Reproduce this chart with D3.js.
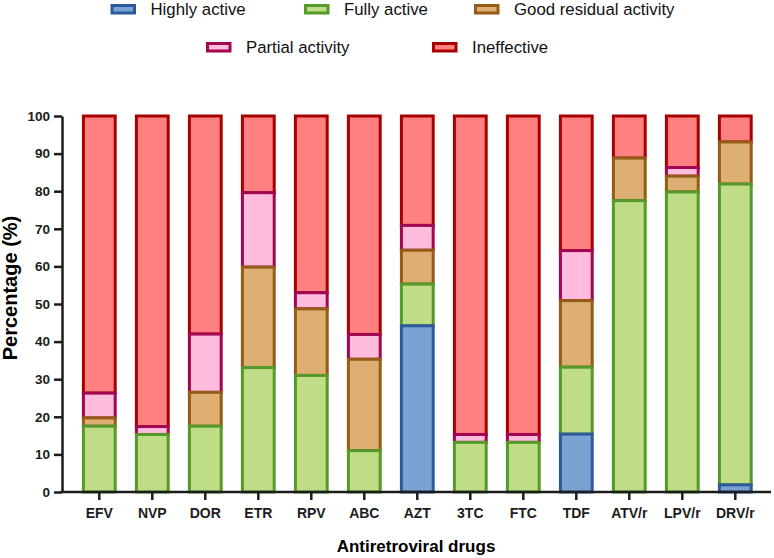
<!DOCTYPE html>
<html>
<head>
<meta charset="utf-8">
<script src="https://cdn.jsdelivr.net/npm/d3@7"></script>
<style>
  body { margin: 0; background: #fff; }
  svg { display: block; font-family: "Liberation Sans", Arial, sans-serif; }
</style>
</head>
<body>
<svg id="chart" width="774" height="558"></svg>
<script>
// drugs on the x axis
var drugs = ["EFV", "NVP", "DOR", "ETR", "RPV", "ABC", "AZT", "3TC", "FTC", "TDF", "ATV/r", "LPV/r", "DRV/r"];

// percentage per activity level, one value per drug
var highly_active   = [0,    0,    0,    0,    0,    0,    44.2, 0,    0,    15.4, 0,    0,    1.9];
var fully_active    = [17.5, 15.3, 17.5, 33.1, 31.0, 11.0, 11.1, 13.2, 13.2, 17.8, 77.5, 79.8, 80.0];
var good_residual   = [2.2,  0,    9.0,  26.7, 17.7, 24.3, 9.0,  0,    0,    17.7, 11.3, 4.2,  11.2];
var partial         = [6.6,  2.1,  15.5, 19.8, 4.3,  6.6,  6.6,  2.1,  2.1,  13.3, 0,    2.3,  0];
var ineffective     = [73.7, 82.6, 58.0, 20.4, 47.0, 58.1, 29.1, 84.7, 84.7, 35.8, 11.2, 13.7, 6.9];

var y_ticks = [0, 10, 20, 30, 40, 50, 60, 70, 80, 90, 100];

var series = [
    {name: "Highly active",          values: highly_active, fill: "#7ca2d4", stroke: "#2d5a9b"},
    {name: "Fully active",           values: fully_active,  fill: "#bedd86", stroke: "#56992b"},
    {name: "Good residual activity", values: good_residual, fill: "#ddaf72", stroke: "#945c17"},
    {name: "Partial activity",       values: partial,       fill: "#ffbcdd", stroke: "#a10651"},
    {name: "Ineffective",            values: ineffective,   fill: "#ff8080", stroke: "#a80000"}
];

// build table for d3.stack
var table = drugs.map(function(d, i) {
    var row = {drug: d};
    series.forEach(function(s) { row[s.name] = s.values[i]; });
    return row;
});

var svg = d3.select("#chart");
var ink = "#1c1c1c";

var x = d3.scaleBand()
    .domain(drugs)
    .range([72.8, 761.8])
    .paddingInner(0.4)
    .paddingOuter(0.2);

var y = d3.scaleLinear()
    .domain([0, 100])
    .range([492, 116]);

var stack = d3.stack().keys(series.map(function(s) { return s.name; }));
var layers = stack(table);

// upper layers first so the lower segment's border sits on top
for (let k = layers.length - 1; k >= 0; k--) {
    let s = series[k];
    svg.append("g")
        .selectAll("rect")
        .data(layers[k].filter(function(d) { return d[1] - d[0] > 0; }))
        .join("rect")
        .attr("x", function(d) { return x(d.data.drug); })
        .attr("y", function(d) { return y(d[1]); })
        .attr("width", x.bandwidth())
        .attr("height", function(d) { return y(d[0]) - y(d[1]); })
        .attr("fill", s.fill)
        .attr("stroke", s.stroke)
        .attr("stroke-width", 3);
}

// y axis
let gy = svg.append("g")
    .attr("transform", "translate(62,0)")
    .call(d3.axisLeft(y).tickValues(y_ticks).tickSize(8).tickSizeOuter(0).tickPadding(4));
gy.select(".domain").attr("stroke", ink).attr("stroke-width", 2.5);
gy.selectAll(".tick line").attr("stroke", ink).attr("stroke-width", 2.5);
gy.selectAll(".tick text")
    .attr("fill", ink)
    .style("font-size", "13.5px")
    .style("font-weight", "bold")
    .style("font-family", "'Liberation Sans', Arial, sans-serif");

// x axis
let gx = svg.append("g")
    .attr("transform", "translate(0,492)")
    .call(d3.axisBottom(x).tickSize(8).tickSizeOuter(0).tickPadding(8));
gx.select(".domain").remove();
gx.append("line")
    .attr("x1", 60.8).attr("x2", 771)
    .attr("stroke", ink).attr("stroke-width", 2.5);
gx.selectAll(".tick line").attr("stroke", ink).attr("stroke-width", 2.5);
gx.selectAll(".tick text")
    .attr("fill", ink)
    .style("font-size", "14px")
    .style("font-weight", "bold")
    .style("font-family", "'Liberation Sans', Arial, sans-serif");

// axis titles
svg.append("text")
    .attr("x", 416).attr("y", 552)
    .attr("text-anchor", "middle")
    .attr("fill", "#000")
    .style("font-size", "17px")
    .style("font-weight", "bold")
    .text("Antiretroviral drugs");

svg.append("text")
    .attr("transform", "translate(16.5,288) rotate(-90)")
    .attr("text-anchor", "middle")
    .attr("fill", "#000")
    .style("font-size", "20px")
    .style("font-weight", "bold")
    .text("Percentage (%)");

// legend, two rows
var legend_pos = [[110.5, 9], [304, 9], [474, 9], [206, 47], [432, 47]];

series.forEach(function(s, i) {
    let g = svg.append("g")
        .attr("transform", "translate(" + legend_pos[i][0] + "," + legend_pos[i][1] + ")");
    g.append("rect")
        .attr("x", 1.5).attr("y", -3.5)
        .attr("width", 22.5).attr("height", 7.5)
        .attr("fill", s.fill)
        .attr("stroke", s.stroke)
        .attr("stroke-width", 3);
    g.append("text")
        .attr("x", 40).attr("y", 5.5)
        .attr("fill", "#111")
        .style("font-size", "16.8px")
        .text(s.name);
});
</script>
</body>
</html>
